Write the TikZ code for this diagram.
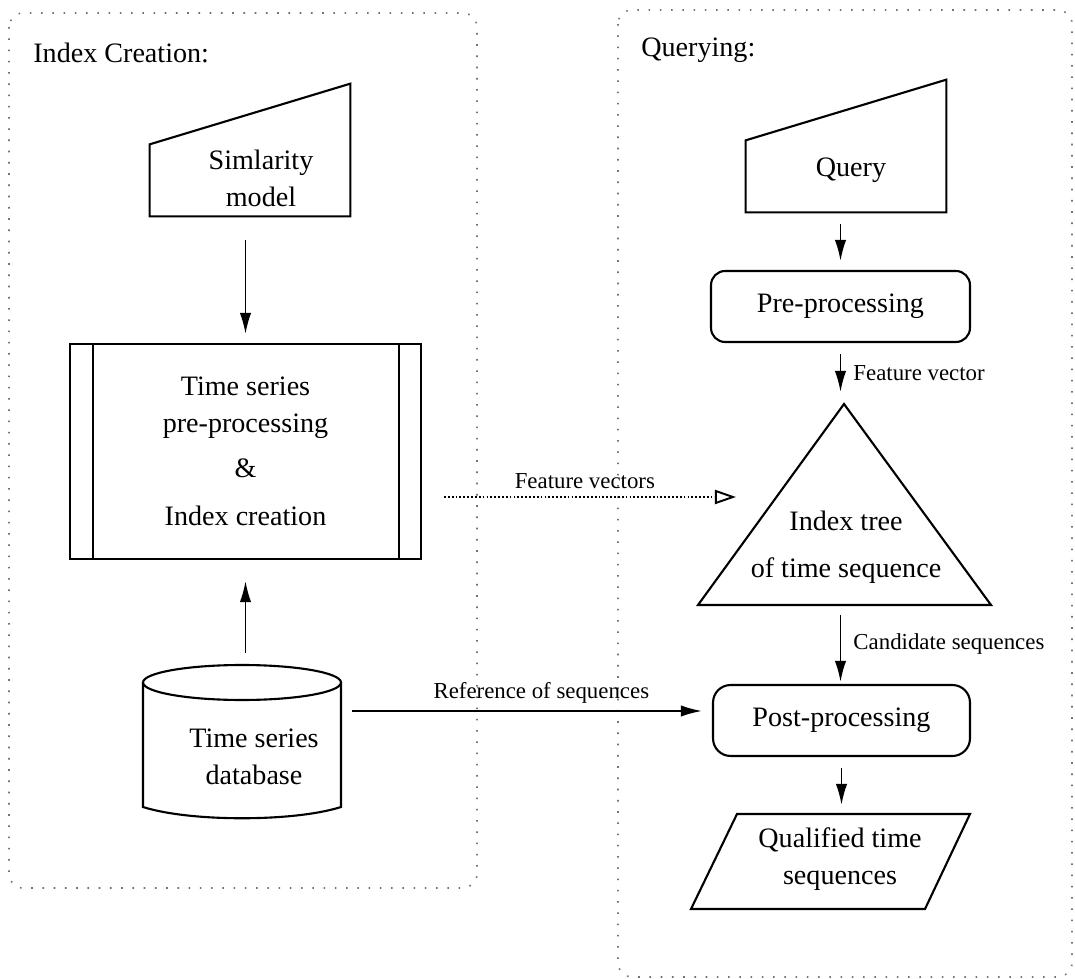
\documentclass[tikz,border=0pt]{standalone}
\usepackage{fontspec}
\setmainfont{Liberation Serif}
\usetikzlibrary{arrows.meta, calc, positioning}
\tikzset{>=latex}
\tikzset{
  txt/.style={align=center, font=\fontsize{16}{21}\selectfont, inner sep=0pt},
  lab/.style={font=\fontsize{13}{15}\selectfont, inner sep=0pt},
  shp/.style={draw, line width=1.2pt},
  inbox/.style={minimum width=4cm, minimum height=2.64cm, inner sep=0pt},
  flow/.style={-{Latex[length=12pt,width=6.5pt]}, line width=1.1pt},
  vec/.style={-{Triangle[open,length=12pt,width=8pt]}, line width=1.1pt, dash pattern=on 1pt off 1.2pt},
  frame/.style={draw=black!55, line width=0.9pt, dash pattern=on 0.9pt off 5.5pt, rounded corners=8pt},
}
\begin{document}
\begin{tikzpicture}[x=0.02cm, y=-0.02cm]
\useasboundingbox (0,0) rectangle (1075,979);
% dotted frames of the two stages
\draw[frame] (9,13) rectangle (477,888);
\draw[frame] (618,10) rectangle (1072,977);
\node[txt, anchor=west] (ttlIndex) at (33,53) {Index Creation:};
\node[txt, anchor=west] (ttlQuery) at (641,50) {Querying:};

% index creation
\node[inbox] (simbox) at (250,150) {};
\draw[shp] (simbox.south west) -- (simbox.south east) -- (simbox.north east) -- ([yshift=1.44cm]simbox.south west) -- cycle;
\node[txt] (sim) at (261,178) {Simlarity\\model};

\node[shp, txt, minimum width=7.02cm, minimum height=4.3cm] (proc) at (245.5,451.5) {Time series\\pre-processing\\[4.5pt]\&\\[6.5pt]Index creation};
\draw[shp] ([xshift=0.48cm]proc.north west) -- ([xshift=0.48cm]proc.south west);
\draw[shp] ([xshift=-0.46cm]proc.north east) -- ([xshift=-0.46cm]proc.south east);

% database
\coordinate (dbTop) at (242,682.5);
\draw[shp] (143,682.5) -- (143,807) .. controls (190,822) and (294,822) .. (341,807) -- (341,682.5);
\draw[shp] (dbTop) ellipse [x radius=1.98cm, y radius=0.35cm];
\node[txt] (db) at (254,757) {Time series\\database};
\coordinate (dbN) at (245.5,665);
\coordinate (dbE) at (341,711);

% querying
\node[inbox] (qbox) at (846,146) {};
\draw[shp] (qbox.south west) -- (qbox.south east) -- (qbox.north east) -- ([yshift=1.44cm]qbox.south west) -- cycle;
\node[txt] (query) at (851,170) {Query};

\node[shp, txt, rounded corners=8pt, minimum width=5.18cm, minimum height=1.42cm] (pre) at (840.5,306.5) {Pre-processing};

\draw[shp] (844,404) -- (991,605) -- (698,605) -- cycle;
\node[txt] (tree) at (846,547) {Index tree\\[6pt]of time sequence};
\coordinate (treeN) at (840.5,404);
\coordinate (treeS) at (840.5,605);
\coordinate (treeW) at (776,497);

\node[shp, txt, rounded corners=10pt, minimum width=5.14cm, minimum height=1.42cm] (post) at (841.5,720.5) {Post-processing};

\draw[shp] (737,814) -- (970,814) -- (925,909) -- (691,909) -- cycle;
\node[txt] (qual) at (840,859) {Qualified time\\sequences};
\coordinate (qualN) at (841.5,814);

% connectors
\draw[flow, shorten <=0.48cm, shorten >=0.18cm] (proc.north |- simbox.south) -- (proc.north);
\draw[flow, shorten <=0.24cm, shorten >=0.42cm] (dbN) -- (proc.south);
\draw[flow, shorten <=0.24cm, shorten >=0.18cm] (pre.north |- qbox.south) -- (pre.north);
\draw[flow, shorten <=0.22cm, shorten >=0.24cm] (pre.south) -- node[lab, right=0.24cm] {Feature vector} (treeN);
\draw[flow, shorten <=0.2cm, shorten >=0.04cm] (treeS) -- node[lab, right=0.24cm] {Candidate sequences} (treeS |- post.north);
\draw[flow, shorten <=0.22cm, shorten >=0.18cm] (post.south) -- (post.south |- qualN);
\draw[flow, shorten <=0.22cm, shorten >=0.2cm] (dbE) -- node[lab, above=0.14cm, pos=0.54] {Reference of sequences} (dbE -| post.west);
\draw[vec, shorten <=0.44cm, shorten >=0.8cm] (proc.east |- treeW) -- node[lab, above=0.14cm, pos=0.46] {Feature vectors} (treeW);
\end{tikzpicture}
\end{document}
